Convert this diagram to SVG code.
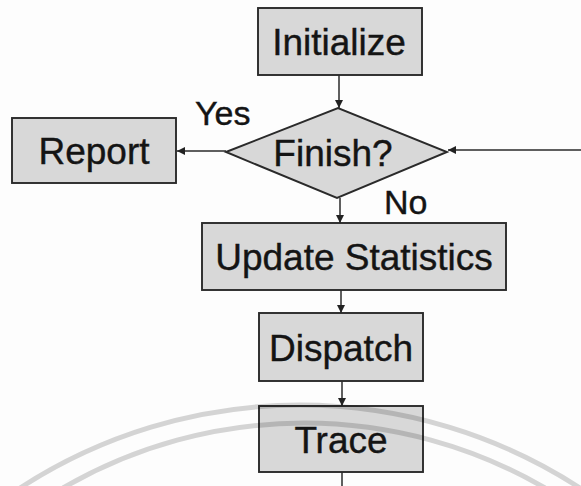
<svg xmlns="http://www.w3.org/2000/svg" width="581" height="486" viewBox="0 0 581 486">
<defs>
<marker id="ah" viewBox="0 0 10 10" refX="10" refY="5" markerWidth="8" markerHeight="8" markerUnits="userSpaceOnUse" orient="auto">
<path d="M0,0 L10,5 L0,10 z" fill="#222"/>
</marker>
</defs>
<style>
.box{fill:#d8d8d8;stroke:#2a2a2a;stroke-width:1.9}
.t{font-family:"Liberation Sans",Arial,sans-serif;font-size:37px;fill:#141414;stroke:#141414;stroke-width:0.4;text-anchor:middle}
.lbl{font-family:"Liberation Sans",Arial,sans-serif;font-size:34px;fill:#141414;stroke:#141414;stroke-width:0.4}
.c{stroke:#2a2a2a;stroke-width:1.5;fill:none}
.wm{fill:none;stroke:#000;stroke-opacity:0.16;stroke-width:5}
</style>
<rect width="581" height="486" fill="#fdfdfd"/>
<g id="initialize">
<rect class="box" x="258" y="8" width="164" height="67"/>
<text class="t" x="339" y="55">Initialize</text>
</g>
<g id="finish">
<polygon class="box" points="226,152 338,108 447,152 337,198"/>
<text class="t" x="333" y="166">Finish?</text>
</g>
<g id="report">
<rect class="box" x="12" y="118" width="164" height="65"/>
<text class="t" x="94" y="164">Report</text>
</g>
<g id="update">
<rect class="box" x="202" y="223" width="304" height="67"/>
<text class="t" x="354" y="270">Update Statistics</text>
</g>
<g id="dispatch">
<rect class="box" x="259" y="313" width="164" height="68"/>
<text class="t" x="341" y="361">Dispatch</text>
</g>
<g id="trace">
<rect class="box" x="259" y="406" width="164" height="66"/>
<text class="t" x="341" y="453">Trace</text>
</g>
<g id="connectors">
<line class="c" x1="339" y1="75" x2="339" y2="108" marker-end="url(#ah)"/>
<line class="c" x1="226" y1="151" x2="177" y2="151" marker-end="url(#ah)"/>
<line class="c" x1="581" y1="150" x2="448" y2="150" marker-end="url(#ah)"/>
<line class="c" x1="340" y1="198" x2="340" y2="223" marker-end="url(#ah)"/>
<line class="c" x1="341" y1="290" x2="341" y2="313" marker-end="url(#ah)"/>
<line class="c" x1="342" y1="381" x2="342" y2="406" marker-end="url(#ah)"/>
<line class="c" x1="342" y1="472" x2="342" y2="486"/>
<text class="lbl" x="195" y="125">Yes</text>
<text class="lbl" x="384" y="214">No</text>
</g>
<g id="watermark">
<path class="wm" d="M20,488 A514,514 0 0 1 580,488"/>
<path class="wm" d="M63,488 A480,480 0 0 1 545,488"/>
</g>
</svg>
